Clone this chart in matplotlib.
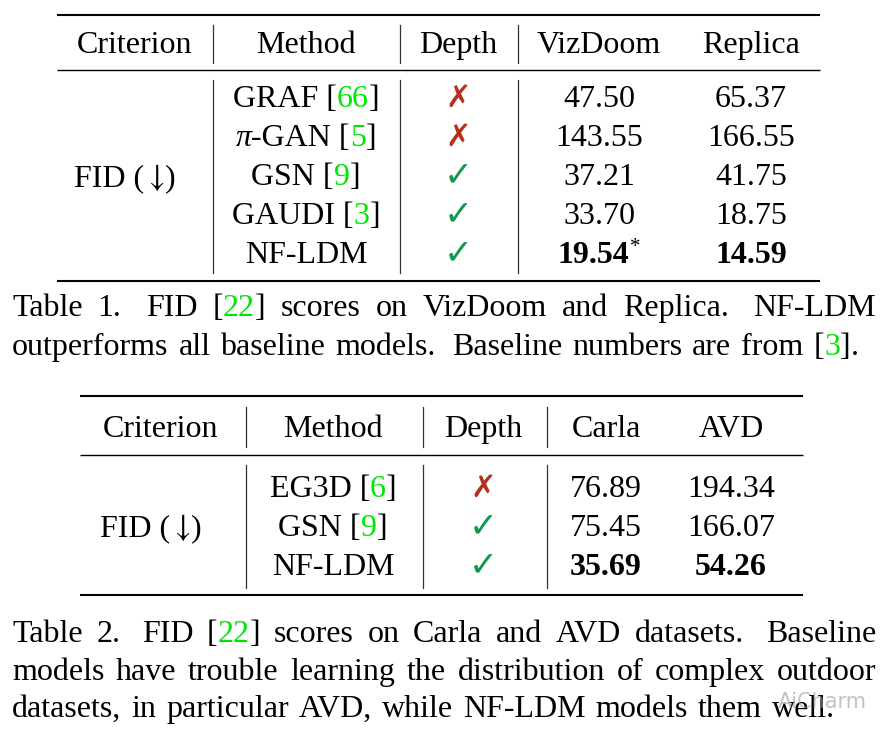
import re
import matplotlib.pyplot as plt

plt.rcParams['font.family'] = ['Liberation Serif', 'DejaVu Serif', 'DejaVu Sans']
plt.rcParams['mathtext.fontset'] = 'stix'

# --- table 1 data ---
T1_COLS = ["Criterion", "Method", "Depth", "VizDoom", "Replica"]
T1_METHODS = ["GRAF", "π-GAN", "GSN", "GAUDI", "NF-LDM"]
T1_REFS = ["66", "5", "9", "3", None]
T1_DEPTH = [False, False, True, True, True]
T1_VIZDOOM = [47.50, 143.55, 37.21, 33.70, 19.54]
T1_REPLICA = [65.37, 166.55, 41.75, 18.75, 14.59]
T1_CAPTION = ["Table 1.  FID [22] scores on VizDoom and Replica.  NF-LDM",
              "outperforms all baseline models. Baseline numbers are from [3]."]

# --- table 2 data ---
T2_COLS = ["Criterion", "Method", "Depth", "Carla", "AVD"]
T2_METHODS = ["EG3D", "GSN", "NF-LDM"]
T2_REFS = ["6", "9", None]
T2_DEPTH = [False, True, True]
T2_CARLA = [76.89, 75.45, 35.69]
T2_AVD = [194.34, 166.07, 54.26]
T2_CAPTION = ["Table 2.  FID [22] scores on Carla and AVD datasets.  Baseline",
              "models have trouble learning the distribution of complex outdoor",
              "datasets, in particular AVD, while NF-LDM models them well."]

CRITERION = ["FID (", r"$\downarrow$", ")"]
FS = 23
GREEN_REF = '#00e600'
RED = '#b5301e'
CHECK_GREEN = '#10994e'

fig = plt.figure(figsize=(8.91, 7.40), dpi=100)
ax = fig.add_axes([0, 0, 1, 1])
ax.set_xlim(0, 891)
ax.set_ylim(740, 0)
ax.axis('off')
fig.canvas.draw()
renderer = fig.canvas.get_renderer()


def make_pieces(pieces, y):
    objs = []
    for s, kw in pieces:
        kw = dict(kw)
        dy = kw.pop('dy', 0)
        kw.setdefault('fontsize', FS)
        t = ax.text(0, y - dy, s, va='baseline', ha='left', **kw)
        objs.append(t)
    widths = [t.get_window_extent(renderer).width for t in objs]
    return objs, widths


def place(objs, widths, x0):
    for t, w in zip(objs, widths):
        t.set_x(x0)
        x0 += w


def draw_centered(pieces, cx, y):
    objs, widths = make_pieces(pieces, y)
    place(objs, widths, cx - sum(widths) / 2)


def word_pieces(word):
    # split "[22]" so that the number is green
    parts = re.split(r'(\[\d+\])', word)
    out = []
    for p in parts:
        if not p:
            continue
        m = re.fullmatch(r'\[(\d+)\]', p)
        if m:
            out += [("[", {}), (m.group(1), {'color': GREEN_REF}), ("]", {})]
        else:
            out.append((p, {}))
    return out


SPACE = 10.0


def draw_caption_line(line, y, x0, x1, justify):
    words = line.split()
    groups = [make_pieces(word_pieces(w), y) for w in words]
    wsum = sum(sum(g[1]) for g in groups)
    weights = [1.6 if w.endswith('.') else 1.0 for w in words[:-1]]
    if justify:
        unit = (x1 - x0 - wsum) / sum(weights)
    else:
        unit = SPACE
    x = x0
    for i, (objs, widths) in enumerate(groups):
        place(objs, widths, x)
        x += sum(widths)
        if i < len(weights):
            x += unit * weights[i]


def method_pieces(name, ref):
    pcs = []
    if name.startswith("π"):
        pcs.append(("π", {'style': 'italic'}))
        name = name[1:]
    if ref is None:
        pcs.append((name, {}))
    else:
        pcs += [(name + "\u00a0[", {}), (ref, {'color': GREEN_REF}), ("]", {})]
    return pcs


def depth_pieces(has):
    if has:
        return [("✓", {'family': 'DejaVu Sans', 'color': CHECK_GREEN, 'fontsize': 25,
                       'weight': 'bold'})]
    return [("✗", {'family': 'DejaVu Sans', 'color': RED, 'fontsize': 22,
                   'weight': 'bold'})]


def draw_table(cols, methods, refs, depth, v1, v2, col_x, vlines, rule_x,
               rules_y, head_y, row_y, head_span, body_span, crit_x, crit_y,
               star_col=None):
    x0, x1 = rule_x
    ax.plot([x0, x1], [rules_y[0]] * 2, color='black', lw=1.5, solid_capstyle='butt')
    ax.plot([x0, x1], [rules_y[1]] * 2, color='black', lw=1.0, solid_capstyle='butt')
    ax.plot([x0, x1], [rules_y[2]] * 2, color='black', lw=1.5, solid_capstyle='butt')
    for vx in vlines:
        ax.plot([vx, vx], head_span, color='#333333', lw=0.9)
        ax.plot([vx, vx], body_span, color='#333333', lw=0.9)
    for name, cx in zip(cols, col_x):
        draw_centered([(name, {})], cx, head_y)
    draw_centered([(s, {}) for s in CRITERION], crit_x, crit_y)
    best1, best2 = min(v1), min(v2)
    for i, y in enumerate(row_y):
        draw_centered(method_pieces(methods[i], refs[i]), col_x[1], y)
        draw_centered(depth_pieces(depth[i]), col_x[2], y)
        for val, best, cx, col in ((v1[i], best1, col_x[3], 3), (v2[i], best2, col_x[4], 4)):
            pcs = [(f"{val:.2f}", {'weight': 'bold'} if val == best else {})]
            if val == best and star_col == col:
                pcs.append(("*", {'fontsize': 15, 'dy': 11}))
            draw_centered(pcs, cx, y)


# table 1
draw_table(T1_COLS, T1_METHODS, T1_REFS, T1_DEPTH, T1_VIZDOOM, T1_REPLICA,
           col_x=[135, 306, 458, 599, 751], vlines=[213, 400, 518],
           rule_x=(57, 820), rules_y=(15, 70, 281), head_y=53,
           row_y=[107, 146, 185, 224, 263], head_span=(25, 63),
           body_span=(80, 273), crit_x=125, crit_y=186, star_col=3)
draw_caption_line(T1_CAPTION[0], 316, 12, 876, True)
draw_caption_line(T1_CAPTION[1], 355, 12, 876, False)

# table 2
draw_table(T2_COLS, T2_METHODS, T2_REFS, T2_DEPTH, T2_CARLA, T2_AVD,
           col_x=[161, 333, 483, 606, 731], vlines=[246, 423, 547],
           rule_x=(80, 803), rules_y=(396, 455, 595), head_y=437,
           row_y=[497, 536, 575], head_span=(407, 447),
           body_span=(465, 588), crit_x=151, crit_y=536)
draw_caption_line(T2_CAPTION[0], 642, 12, 876, True)
draw_caption_line(T2_CAPTION[1], 680, 12, 876, True)
draw_caption_line(T2_CAPTION[2], 717, 12, 876, False)

# watermark
ax.text(778, 702, "AiCharm", fontsize=15, family='DejaVu Sans', color='#9a9a9a',
        alpha=0.6, va='center', ha='left')

fig.savefig("out.png", dpi=100)
